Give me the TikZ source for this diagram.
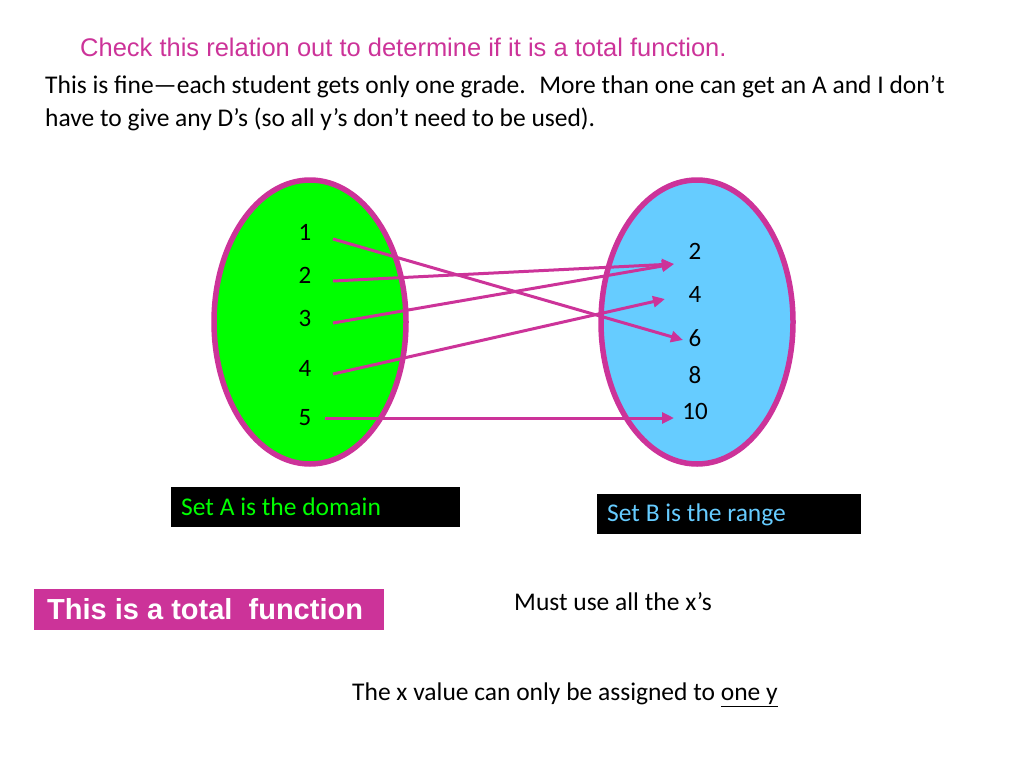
\documentclass[tikz,border=0pt]{standalone}
\usepackage{fontspec}
\setmainfont{Carlito}
\newfontfamily\arialf{Liberation Sans}
\usetikzlibrary{arrows.meta}
\definecolor{pk}{RGB}{204,51,153}
\definecolor{gA}{RGB}{0,255,0}
\definecolor{bB}{RGB}{102,204,255}
\tikzset{
 set/.style={draw=pk,line width=5.5pt},
 arr/.style={pk,line width=3pt,-{Triangle[length=12pt,width=11pt]}},
 num/.style={font=\fontsize{25}{30}\selectfont,inner sep=1pt},
 txt/.style={font=\fontsize{25.5}{31}\selectfont,anchor=west,inner sep=0pt},
}
\begin{document}
\begin{tikzpicture}[x=1pt,y=-1pt]
\useasboundingbox (0,0) rectangle (1024,768);
\node[txt,font=\arialf\fontsize{25.5}{30}\selectfont,text=pk] (t) at (80,47) {Check this relation out to determine if it is a total function.};
\node[txt,align=left,anchor=north west,font=\fontsize{25.5}{33}\selectfont] (b) at (45,75) {This is fine---each student gets only one grade.~ More than one can get an A and I don’t\\have to give any D’s (so all y’s don’t need to be used).};
\path[set,fill=gA] (310,322) ellipse [x radius=96,y radius=142];
\path[set,fill=bB] (697,322) ellipse [x radius=96,y radius=142];
\node[num] (a1) at (305,232) {1};
\node[num] (a2) at (305,275) {2};
\node[num] (a3) at (305,318) {3};
\node[num] (a4) at (305,368) {4};
\node[num] (a5) at (305,418) {5};
\node[num] (b2) at (695,251) {2};
\node[num] (b4) at (695,294) {4};
\node[num] (b6) at (695,338) {6};
\node[num] (b8) at (695,375) {8};
\node[num] (b10) at (695,411) {10};
\coordinate (s1) at (333,239); \coordinate (s2) at (333,281);
\coordinate (s3) at (333,323); \coordinate (s4) at (333,374);
\coordinate (s5) at (325,418);
\coordinate (e2) at (674,264); \coordinate (e4) at (665,299);
\coordinate (e6) at (683,340); \coordinate (e10) at (674,418);
\draw[arr] (s1) -- (e6);
\draw[arr] (s2) -- (e2);
\draw[arr] (s3) -- (e2);
\draw[arr] (s4) -- (e4);
\draw[arr] (s5) -- (e10);
\node[fill=black,minimum width=289pt,minimum height=40pt,anchor=north west,inner sep=0pt] (la) at (171,487) {};
\node[txt,text=gA] at (181,507) {Set A is the domain};
\node[fill=black,minimum width=264pt,minimum height=40pt,anchor=north west,inner sep=0pt] (lb) at (597,494) {};
\node[txt,text=bB] at (607,515) {Set B is the range};
\node[fill=pk,minimum width=350pt,minimum height=41pt,anchor=north west,inner sep=0pt] (tf) at (34,589) {};
\node[txt,text=white,font=\arialf\bfseries\fontsize{29}{34}\selectfont] at (47,609) {This is a total~ function};
\node[txt] (m) at (514,602) {Must use all the x’s};
\node[txt] (x) at (352,695) {The x value can only be assigned to \underline{one y}};
\end{tikzpicture}
\end{document}
